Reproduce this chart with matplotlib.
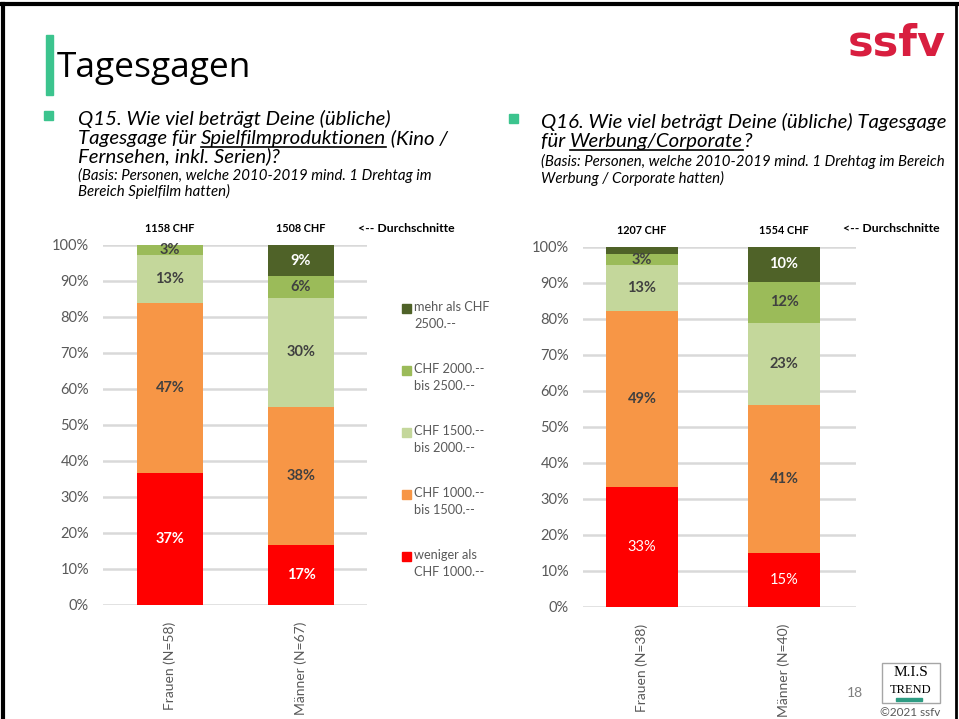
import numpy as np
import matplotlib.pyplot as plt
from matplotlib.lines import Line2D
from matplotlib.patches import Rectangle

# data (shares per salary class, bottom -> top)
classes = ["weniger als\nCHF 1000.--", "CHF 1000.--\nbis 1500.--", "CHF 1500.--\nbis 2000.--",
           "CHF 2000.--\nbis 2500.--", "mehr als CHF\n2500.--"]
colors = ["#FF0000", "#F79646", "#C4D79B", "#9BBB59", "#4F6228"]

groups_q15 = ["Frauen (N=58)", "Männer (N=67)"]
frauen_q15 = [36.7, 47.2, 13.3, 2.8, 0.0]
maenner_q15 = [16.7, 38.3, 30.4, 5.9, 8.7]
avg_q15 = ["1158 CHF", "1508 CHF"]

groups_q16 = ["Frauen (N=38)", "Männer (N=40)"]
frauen_q16 = [33.3, 48.9, 12.8, 3.0, 2.0]
maenner_q16 = [14.9, 41.3, 22.6, 11.6, 9.6]
avg_q16 = ["1207 CHF", "1554 CHF"]

W, H = 959, 719
FONT = "Lato"
GREY = "#595959"
TEAL = "#3CC48E"

fig = plt.figure(figsize=(W / 100, H / 100), dpi=100)


def fx(x):
    return x / W


def fy(y):
    return 1 - y / H


def stacked(rect, xlim, width, series, groups, avgs, bold_red):
    ax = fig.add_axes(rect)
    x = np.arange(len(groups))
    data = np.array(series) / 100.0
    bottom = np.zeros(len(groups))
    for k in range(data.shape[1]):
        vals = data[:, k]
        ax.bar(x, vals, width, bottom=bottom, color=colors[k], zorder=3)
        for i, v in enumerate(vals):
            if v * 100 >= 2.5:
                light = k in (0, 4)
                weight = "bold"
                if k == 0 and not bold_red:
                    weight = "normal"
                ax.text(x[i], bottom[i] + v / 2, f"{round(v * 100):.0f}%",
                        ha="center", va="center", fontsize=10.5, family=FONT,
                        fontweight=weight, color="white" if light else "#404040", zorder=4)
        bottom += vals
    ax.set_xlim(*xlim)
    ax.set_ylim(0, 1)
    ax.set_yticks(np.arange(0, 1.01, 0.1))
    ax.set_yticklabels([f"{t}%" for t in range(0, 101, 10)], fontsize=10.5, color=GREY, family=FONT)
    ax.yaxis.grid(True, color="#D9D9D9", linewidth=1.8, zorder=0)
    ax.tick_params(length=0, pad=10)
    ax.set_xticks(x)
    ax.set_xticklabels(groups, rotation=90, fontsize=10, color=GREY, family=FONT, va="top")
    ax.tick_params(axis="x", pad=12)
    for s in ax.spines.values():
        s.set_visible(False)
    for i, a in enumerate(avgs):
        ax.text(x[i], 1.045, a, ha="center", va="center", fontsize=7.8,
                fontweight="bold", family=FONT, color="black")
    return ax


ax1 = stacked([fx(103), fy(605), fx(264), 360 / H], (-0.511, 1.504), 0.51,
              [frauen_q15, maenner_q15], groups_q15, avg_q15, True)
ax2 = stacked([fx(583), fy(607), fx(273), 360 / H], (-0.415, 1.507), 0.507,
              [frauen_q16, maenner_q16], groups_q16, avg_q16, False)

fig.text(fx(358), fy(229), "<-- Durchschnitte", fontsize=8.8, fontweight="bold",
         family=FONT, va="center")
fig.text(fx(843), fy(229), "<-- Durchschnitte", fontsize=8.8, fontweight="bold",
         family=FONT, va="center")

# legend
leg_y = [308, 370, 432, 494, 556]
for k in range(4, -1, -1):
    y = leg_y[4 - k]
    fig.add_artist(Rectangle((fx(402), fy(y + 5)), fx(9), 9 / H, color=colors[k],
                             transform=fig.transFigure))
    fig.text(fx(414), fy(y - 7), classes[k], fontsize=9.2, color=GREY, family=FONT,
             va="top", linespacing=1.5)

# slide frame
fig.add_artist(Line2D([0, 1], [fy(4), fy(4)], color="black", lw=3, transform=fig.transFigure))
fig.add_artist(Line2D([fx(3), fx(3)], [0, fy(4)], color="black", lw=3, transform=fig.transFigure))
fig.add_artist(Line2D([fx(956), fx(956)], [0, fy(4)], color="black", lw=2, transform=fig.transFigure))

# title
fig.add_artist(Rectangle((fx(46), fy(95)), fx(7), 60 / H, color=TEAL, transform=fig.transFigure))
fig.text(fx(57), fy(68), "Tagesgagen", fontsize=25.5, family="Open Sans", va="center")
fig.text(fx(946), fy(44), "ssfv", fontsize=31, family="DejaVu Sans", fontweight="bold",
         color="#D81E3F", ha="right", va="center")

renderer = fig.canvas.get_renderer()


def line(x, y, s, size):
    return fig.text(fx(x), fy(y), s, fontsize=size, style="italic", family=FONT, va="baseline")


def underlined(x, y, pre, word, post, size):
    t = line(x, y, pre, size)
    bb = t.get_window_extent(renderer)
    t2 = fig.text(bb.x1 / W, fy(y), word, fontsize=size, style="italic", family=FONT, va="baseline")
    bb2 = t2.get_window_extent(renderer)
    fig.add_artist(Line2D([bb2.x0 / W, bb2.x1 / W], [fy(y + 3), fy(y + 3)], color="black",
                          lw=1.2, transform=fig.transFigure))
    fig.text(bb2.x1 / W, fy(y), post, fontsize=size, style="italic", family=FONT, va="baseline")


QS = 14.7
BS = 10.8

# question Q15
fig.add_artist(Rectangle((fx(44), fy(120)), fx(9), 9 / H, color=TEAL, transform=fig.transFigure))
line(78, 125, "Q15. Wie viel beträgt Deine (übliche)", QS)
underlined(78, 144, "Tagesgage für ", "Spielfilmproduktionen", " (Kino /", QS)
line(78, 162, "Fernsehen, inkl. Serien)?", QS)
line(78, 180, "(Basis: Personen, welche 2010-2019 mind. 1 Drehtag im", BS)
line(78, 196, "Bereich Spielfilm hatten)", BS)

# question Q16
fig.add_artist(Rectangle((fx(509), fy(123)), fx(9), 9 / H, color=TEAL, transform=fig.transFigure))
line(541, 128, "Q16. Wie viel beträgt Deine (übliche) Tagesgage", QS)
underlined(541, 147, "für ", "Werbung/Corporate", "?", QS)
line(541, 166, "(Basis: Personen, welche 2010-2019 mind. 1 Drehtag im Bereich", BS)
line(541, 183, "Werbung / Corporate hatten)", BS)

# footer
fig.text(fx(855), fy(693), "18", fontsize=10, color="#7F7F7F", family=FONT, ha="center", va="center")
fig.add_artist(Rectangle((fx(882), fy(703)), fx(58), 40 / H, fill=False, edgecolor="#A6A6A6",
                         lw=1, transform=fig.transFigure))
fig.text(fx(911), fy(672), "M.I.S", fontsize=11, family="Liberation Serif", ha="center", va="center")
fig.text(fx(911), fy(690), "TREND", fontsize=9, family="Liberation Serif", ha="center", va="center")
fig.add_artist(Rectangle((fx(896), fy(701)), fx(26), 3 / H, color="#2E9C83", transform=fig.transFigure))
fig.text(fx(910), fy(712), "©2021 ssfv", fontsize=8.5, color=GREY, family=FONT, ha="center", va="center")

fig.savefig("out.png", dpi=100)
